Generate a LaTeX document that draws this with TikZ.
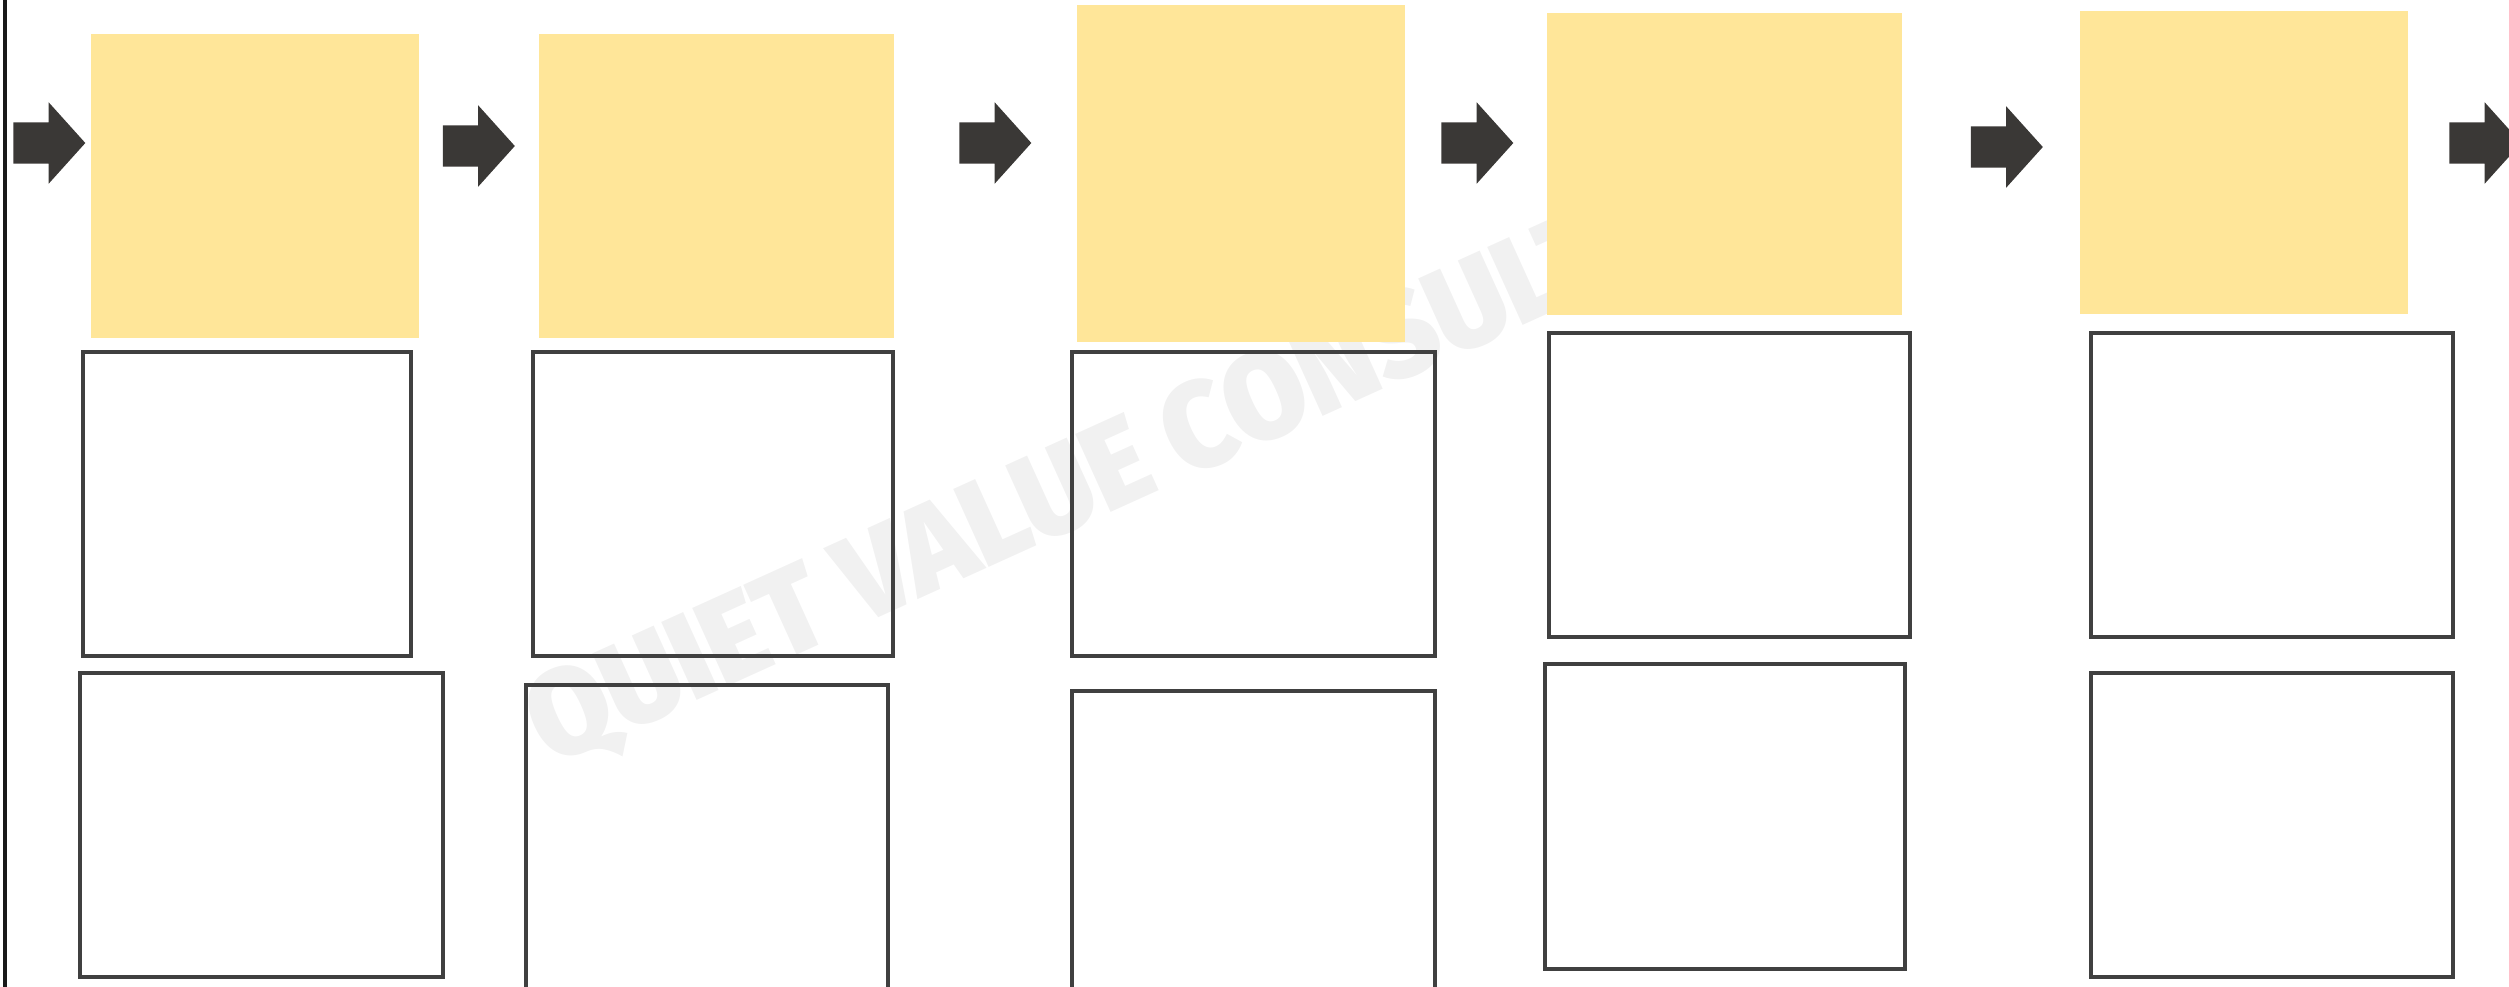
\documentclass[tikz,border=0pt]{standalone}
\usepackage{fontspec}
\newfontfamily\stampfont{Fira Sans Black}
\usetikzlibrary{shapes.arrows}
\definecolor{notey}{RGB}{255,230,153}
\definecolor{cardline}{RGB}{64,64,64}
\definecolor{flowgray}{RGB}{58,56,54}
\definecolor{stampgray}{RGB}{241,241,241}
\tikzset{
  note/.style={fill=notey, inner sep=0pt},
  card/.style={draw=cardline, line width=0.9pt, inner sep=0pt},
  flow/.style={single arrow, fill=flowgray, inner xsep=0pt, inner ysep=2mm, minimum height=7.2mm,
    minimum width=8mm, single arrow head extend=2mm, single arrow tip angle=96},
  stamp/.style={text=stampgray, font=\stampfont\fontsize{35}{35}\selectfont,
    rotate=24.4, xscale=0.95, inner sep=0pt, anchor=base west}
}
\begin{document}
\begin{tikzpicture}[x=0.1mm,y=-0.1mm]
  \useasboundingbox (0,0) rectangle (2509,986);
  % watermark
  \node[stamp] (mark) at (550,767) {QUIET VALUE CONSULT};
  % left rule
  \draw[line width=0.95pt, black!90] (5,-5) -- (5,995);
  % notes
  \node[note, minimum width=32.8mm, minimum height=30.4mm] (n1) at (255,186) {};
  \node[note, minimum width=35.5mm, minimum height=30.4mm] (n2) at (716.5,186) {};
  \node[note, minimum width=32.8mm, minimum height=33.7mm] (n3) at (1241,173.5) {};
  \node[note, minimum width=35.5mm, minimum height=30.2mm] (n4) at (1724.5,164) {};
  \node[note, minimum width=32.8mm, minimum height=30.3mm] (n5) at (2244,162.5) {};
  % cards, upper row
  \node[card, minimum width=32.8mm, minimum height=30.4mm] (u1) at (247,504) {};
  \node[card, minimum width=36mm, minimum height=30.4mm] (u2) at (713,504) {};
  \node[card, minimum width=36.3mm, minimum height=30.4mm] (u3) at (1253.5,504) {};
  \node[card, minimum width=36.1mm, minimum height=30.4mm] (u4) at (1729.5,485) {};
  \node[card, minimum width=36.2mm, minimum height=30.4mm] (u5) at (2272,485) {};
  % cards, lower row
  \node[card, minimum width=36.3mm, minimum height=30.4mm] (l1) at (261.5,825) {};
  \node[card, minimum width=36.2mm, minimum height=30.4mm] (l2) at (707,837) {};
  \node[card, minimum width=36.3mm, minimum height=30.4mm] (l3) at (1253.5,843) {};
  \node[card, minimum width=36mm, minimum height=30.5mm] (l4) at (1725,816.5) {};
  \node[card, minimum width=36.2mm, minimum height=30.4mm] (l5) at (2272,825) {};
  % arrows
  \node[flow] (a1) at (40,143) {};
  \node[flow] (a2) at (469.5,146) {};
  \node[flow] (a3) at (986,143) {};
  \node[flow] (a4) at (1468,143) {};
  \node[flow] (a5) at (1997.5,147) {};
  \node[flow] (a6) at (2476,143) {};
\end{tikzpicture}
\end{document}
